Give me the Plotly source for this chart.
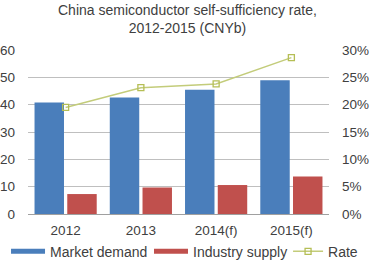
import plotly.graph_objects as go

categories = ["2012", "2013", "2014(f)", "2015(f)"]
market_demand = [40.8, 42.6, 45.5, 48.9]
industry_supply = [7.3, 9.7, 10.6, 13.7]
rate = [0.195, 0.231, 0.238, 0.286]
title_text = "China semiconductor self-sufficiency rate,<br>2012-2015 (CNYb)"

font_color = "#404040"
blue = "#4A7EBB"
red = "#C0504D"
fs = 13.5
fig = go.Figure()
fig.add_trace(go.Bar(x=categories, y=market_demand, name="Market demand",
                     marker=dict(color=blue, line=dict(width=0)),
                     showlegend=False))
fig.add_trace(go.Bar(x=categories, y=industry_supply, name="Industry supply",
                     marker=dict(color=red, line=dict(width=0)),
                     showlegend=False))
fig.add_trace(go.Scatter(x=categories, y=rate, name="Rate", yaxis="y2",
                         mode="lines+markers",
                         line=dict(color="#C3CC7A", width=1.5),
                         marker=dict(symbol="square-open", size=6, color="#B5BE55",
                                     line=dict(width=1.3)),
                         legend="legend3"))
# legend keys for the bars (wide bar swatches, no data drawn)
fig.add_trace(go.Scatter(x=[None], y=[None], name="Market demand", mode="lines",
                         line=dict(color=blue, width=5), legend="legend"))
fig.add_trace(go.Scatter(x=[None], y=[None], name="Industry supply", mode="lines",
                         line=dict(color=red, width=5), legend="legend2"))

fig.add_annotation(text=title_text, xref="paper", yref="paper",
                   x=0.53, y=1.19, xanchor="center", yanchor="middle",
                   showarrow=False, font=dict(size=14, color=font_color))

leg_common = dict(orientation="h", xanchor="left", y=-0.23, yanchor="middle",
                  font=dict(size=14, color=font_color),
                  bgcolor="rgba(0,0,0,0)", borderwidth=0)

fig.update_layout(
    width=372, height=262,
    margin=dict(l=28, r=43, t=50, b=48, autoexpand=False),
    paper_bgcolor="white", plot_bgcolor="white",
    font=dict(family="Liberation Sans, Arial", size=fs, color=font_color),
    barmode="group", bargap=0.13, bargroupgap=0.1,
    showlegend=True,
    legend=dict(x=-0.073, itemwidth=34, **leg_common),
    legend2=dict(x=0.402, itemwidth=34, **leg_common),
    legend3=dict(x=0.864, itemwidth=30, **leg_common),
    xaxis=dict(showgrid=False, showline=True, linecolor="#A0A0A0", linewidth=1,
               ticks="", tickfont=dict(size=fs, color=font_color),
               ticklabelstandoff=4),
    yaxis=dict(range=[0, 60], dtick=10, showgrid=True, gridcolor="#BFBFBF",
               gridwidth=1, zeroline=False, showline=False, ticks="",
               ticklabelstandoff=12,
               tickfont=dict(size=fs, color=font_color)),
    yaxis2=dict(range=[0, 0.30], dtick=0.05, tickformat=".0%", overlaying="y",
                side="right", showgrid=False, zeroline=False, showline=False,
                ticks="", ticklabelstandoff=12,
                tickfont=dict(size=fs, color=font_color)),
)

fig.write_html("out.html")
